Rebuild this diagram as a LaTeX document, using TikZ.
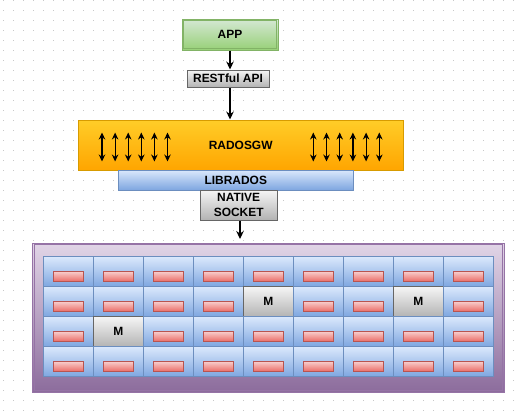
\documentclass[tikz,border=0pt]{standalone}
\usepackage{fontspec}
\setmainfont{Liberation Sans}
\usetikzlibrary{arrows.meta,positioning}

\definecolor{dotgray}{HTML}{C8C8C8}
\definecolor{appline}{HTML}{82B366}
\definecolor{apptop}{HTML}{D5E8D4}
\definecolor{appbot}{HTML}{97D077}
\definecolor{grayline}{HTML}{666666}
\definecolor{graytop}{HTML}{F5F5F5}
\definecolor{graybot}{HTML}{B3B3B3}
\definecolor{orangeline}{HTML}{D79B00}
\definecolor{orangetop}{HTML}{FFCD28}
\definecolor{orangebot}{HTML}{FFA500}
\definecolor{blueline}{HTML}{6C8EBF}
\definecolor{bluetop}{HTML}{DAE8FC}
\definecolor{bluebot}{HTML}{7EA6E0}
\definecolor{redline}{HTML}{B85450}
\definecolor{redtop}{HTML}{F8CECC}
\definecolor{redbot}{HTML}{EA6B66}
\definecolor{purpleline}{HTML}{9673A6}
\definecolor{purpletop}{HTML}{E1D5E7}
\definecolor{purplebot}{HTML}{8C6C9C}

\tikzset{
  box/.style={rectangle, inner sep=0pt, line width=1bp},
  greenbox/.style={box, draw=appline, top color=apptop, bottom color=appbot},
  graybox/.style={box, draw=grayline, top color=graytop, bottom color=graybot},
  orangebox/.style={box, draw=orangeline, top color=orangetop, bottom color=orangebot},
  bluebox/.style={box, draw=blueline, top color=bluetop, bottom color=bluebot},
  purplebox/.style={box, draw=purpleline, top color=purpletop, bottom color=purplebot},
  cellbox/.style={bluebox, minimum width=50bp, minimum height=30bp},
  monbox/.style={graybox, minimum width=50bp, minimum height=30bp},
  diskbox/.style={box, draw=redline, top color=redtop, bottom color=redbot, minimum width=30bp, minimum height=10bp},
  flow/.style={line width=1.2bp, -{Stealth[length=8bp,width=7.5bp]}},
  both/.style={line width=1.2bp, {Stealth[length=7bp,width=6.5bp]}-{Stealth[length=7bp,width=6.5bp]}}
}

\begin{document}
\begin{tikzpicture}[x=1bp,y=-1bp,font=\fontsize{12}{14.5}\selectfont\bfseries]
    \useasboundingbox (0,0) rectangle (523,416);

    % Background dots
    \foreach \i in {0,...,52}
      \foreach \j in {0,...,41}
        \fill[dotgray] (3+10*\i,10*\j) rectangle ++(1,1);

    % App and REST API
    \node[greenbox, minimum width=96bp, minimum height=31bp] (app) at (230,34.5) {APP};
    \draw[appline] ([shift={(2,2)}]app.north west) rectangle ([shift={(-2,-2)}]app.south east);
    \node[graybox, minimum width=82bp, minimum height=17bp] (rest) at (228,78.5) {RESTful API};

    % Gateway
    \node[orangebox, minimum width=325bp, minimum height=50bp] (radosgw) at (240.7,145) {RADOSGW};
    \foreach \k in {0,...,5} {
      \draw[both] (102+13.1*\k,132.5) -- (102+13.1*\k,161.5);
      \draw[both] (313.3+13.2*\k,132.5) -- (313.3+13.2*\k,161.5);
    }
    \node[bluebox, minimum width=235bp, minimum height=20bp] (librados) at (235.8,180) {LIBRADOS};
    \node[graybox, minimum width=77bp, minimum height=30bp, align=center] (socket) at (238.7,205) {NATIVE\\SOCKET};

    % Cluster
    \node[purplebox, minimum width=471bp, minimum height=149bp] (cluster) at (268.5,317.5) {};
    \draw[purpleline] ([shift={(2,2)}]cluster.north west) rectangle ([shift={(-2,-2)}]cluster.south east);
    \foreach \r in {0,...,3}
      \foreach \c in {0,...,8} {
        \pgfmathtruncatemacro\mon{(\r==1 && (\c==4 || \c==7)) || (\r==2 && \c==1)}
        \ifnum\mon=1
          \node[monbox] (cell-\r-\c) at (68.3+50*\c,271.7+30*\r) {M};
        \else
          \node[cellbox] (cell-\r-\c) at (68.3+50*\c,271.7+30*\r) {};
          \node[diskbox] (disk-\r-\c) at (68.3+50*\c,276.4+30*\r) {};
        \fi
      }

    % Arrows
    \coordinate (drop) at (240,239);
    \draw[flow] (app.south) -- (app.south |- rest.north);
    \draw[flow] (rest.south -| app.south) -- (app.south |- radosgw.north);
    \draw[flow] (socket.south -| drop) -- (drop);
\end{tikzpicture}
\end{document}
